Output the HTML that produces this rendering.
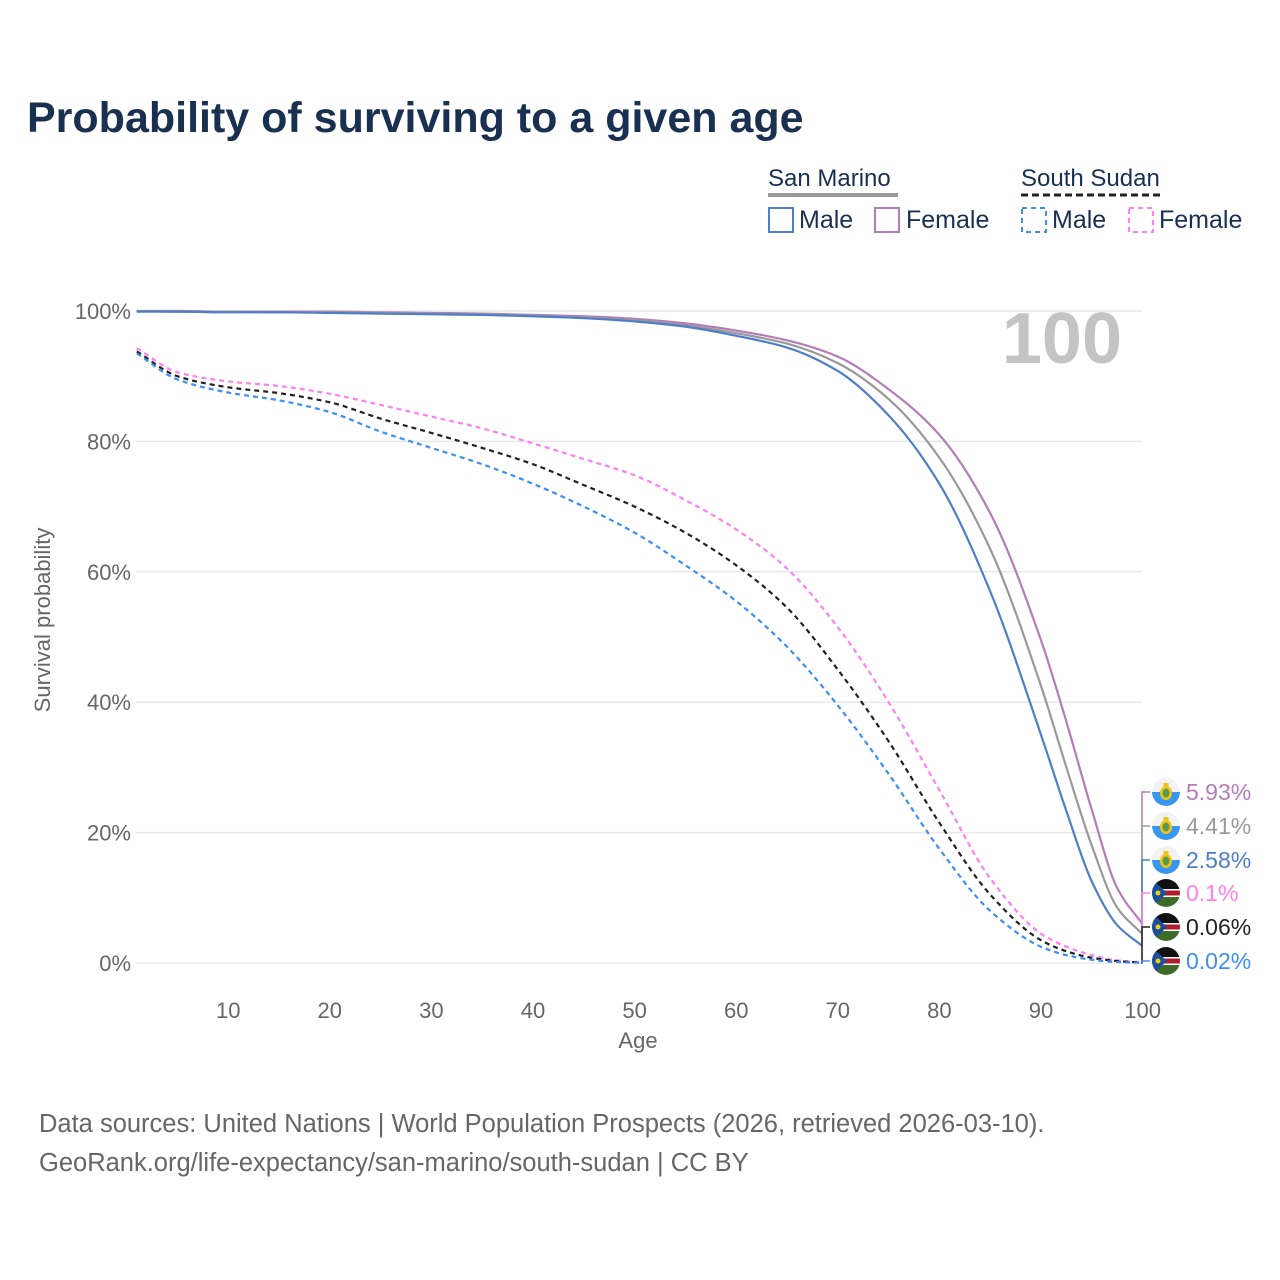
<!DOCTYPE html>
<html><head><meta charset="utf-8">
<style>
body{margin:0;background:#fff;}
svg{display:block;font-family:"Liberation Sans",sans-serif;}
</style></head>
<body>
<svg id="chart" width="1280" height="1280" viewBox="0 0 1280 1280">
<defs>
<clipPath id="cflag"><circle cx="0" cy="0" r="14"/></clipPath>
</defs>
<text x="27" y="132" font-size="43" font-weight="bold" fill="#1a3050">Probability of surviving to a given age</text>
<g>
<text x="768" y="186" font-size="24" fill="#1a3050">San Marino</text>
<line x1="768" y1="195" x2="898" y2="195" stroke="#999" stroke-width="4"/>
<text x="1021" y="186" font-size="24" fill="#1a3050">South Sudan</text>
<line x1="1021" y1="195" x2="1163" y2="195" stroke="#222" stroke-width="3" stroke-dasharray="7,4"/>
<rect x="769" y="208" width="24" height="24" fill="none" stroke="#4f7ec8" stroke-width="2"/>
<text x="799" y="228" font-size="25" fill="#1a3050">Male</text>
<rect x="875" y="208" width="24" height="24" fill="none" stroke="#b47cb8" stroke-width="2"/>
<text x="906" y="228" font-size="25" fill="#1a3050">Female</text>
<rect x="1022" y="208" width="24" height="24" fill="none" stroke="#3d8ef5" stroke-width="2" stroke-dasharray="5,4"/>
<text x="1052" y="228" font-size="25" fill="#1a3050">Male</text>
<rect x="1129" y="208" width="24" height="24" fill="none" stroke="#ff80f0" stroke-width="2" stroke-dasharray="5,4"/>
<text x="1159" y="228" font-size="25" fill="#1a3050">Female</text>
</g>
<text x="1122" y="363" font-size="72" font-weight="bold" fill="#c4c4c4" text-anchor="end">100</text>
<g id="grid"></g>
<g id="lines"></g>
<g id="ends"></g>
<text x="638" y="1048" font-size="22" fill="#666" text-anchor="middle">Age</text>
<text transform="translate(50,620) rotate(-90)" font-size="22" fill="#666" text-anchor="middle">Survival probability</text>
<text x="39" y="1132" font-size="25.5" fill="#666">Data sources: United Nations | World Population Prospects (2026, retrieved 2026-03-10).</text>
<text x="39" y="1171" font-size="25.5" fill="#666">GeoRank.org/life-expectancy/san-marino/south-sudan | CC BY</text>
</svg>
<script>
const ages = [1,5,10,15,20,25,30,35,40,45,50,55,60,65,70,75,80,85,90,92.5,95,97.5,100];
const smMale   = [99.9,99.9,99.8,99.8,99.7,99.6,99.5,99.4,99.2,98.9,98.4,97.6,96.2,94.4,90.8,84,73.5,57,35,23.3,12.5,5.8,2.58];
const smBoth   = [100,99.9,99.9,99.8,99.8,99.7,99.6,99.5,99.3,99,98.6,97.8,96.6,95,92,86.5,77.5,63.5,42.5,30,18,8.5,4.41];
const smFemale = [100,100,99.9,99.9,99.9,99.8,99.7,99.6,99.4,99.2,98.8,98.1,97,95.5,93,88,81,69,49.5,37,23.5,11.5,5.93];
const ssMale   = [93.5,89.5,87.5,86.3,84.5,81.5,79,76.5,73.5,70,66,61,55.5,48.5,39.5,29,17.5,8,2.5,1.2,0.5,0.15,0.02];
const ssBoth   = [93.8,90,88.3,87.4,86,83.5,81.3,79,76.5,73.3,70,66,61,54.5,45,34,21.5,10.5,3.5,1.8,0.8,0.3,0.06];
const ssFemale = [94.3,90.6,89.2,88.5,87.3,85.6,83.8,82,79.7,77.3,74.8,71,66.5,60.5,51.5,40,26.5,13,4.5,2.5,1.2,0.4,0.1];
const yTicks = [0,20,40,60,80,100];
const xTicks = [10,20,30,40,50,60,70,80,90,100];
const endLabels = ["5.93%","4.41%","2.58%","0.1%","0.06%","0.02%"];

const NS="http://www.w3.org/2000/svg";
const X = a => 126.6 + a*10.16;
const Y = p => 963 - p*6.52;
function mk(tag, attrs, parent){const e=document.createElementNS(NS,tag);for(const k in attrs)e.setAttribute(k,attrs[k]);parent.appendChild(e);return e;}
const grid=document.getElementById('grid');
yTicks.forEach(t=>{
  const l=mk('line',{x1:136,x2:1142,y1:Y(t),y2:Y(t),stroke:'#e8e8e8','stroke-width':1.5},grid);
  
  
  const tx=mk('text',{x:131,y:Y(t)+8,'font-size':22,fill:'#666','text-anchor':'end'},grid);
  tx.textContent=t+'%';
  
  
});
xTicks.forEach(t=>{
  const tx=mk('text',{x:X(t),y:1018,'font-size':22,fill:'#666','text-anchor':'middle'},grid);
  tx.textContent=t;
  
  
});
function pathD(vals){
  const xs=ages.map(X), ys=vals.map(Y), n=xs.length;
  const d=[],m=[];
  for(let i=0;i<n-1;i++)d.push((ys[i+1]-ys[i])/(xs[i+1]-xs[i]));
  m[0]=d[0];m[n-1]=d[n-2];
  for(let i=1;i<n-1;i++){
    if(d[i-1]*d[i]<=0)m[i]=0;
    else{const h0=xs[i]-xs[i-1],h1=xs[i+1]-xs[i];const w1=2*h1+h0,w2=h1+2*h0;m[i]=(w1+w2)/(w1/d[i-1]+w2/d[i]);}
  }
  let s='M'+xs[0]+','+ys[0];
  for(let i=0;i<n-1;i++){
    const h=(xs[i+1]-xs[i])/3;
    s+=' C'+(xs[i]+h)+','+(ys[i]+m[i]*h)+' '+(xs[i+1]-h)+','+(ys[i+1]-m[i+1]*h)+' '+xs[i+1]+','+ys[i+1];
  }
  return s;
}
const lines=document.getElementById('lines');
const series=[
 ['ss-female-line',ssFemale,'#ff80f0','5,4'],
 ['ss-both-line',ssBoth,'#222','5,4'],
 ['ss-male-line',ssMale,'#3d8ef5','5,4'],
 ['sm-female-line',smFemale,'#b47cb8',''],
 ['sm-both-line',smBoth,'#999',''],
 ['sm-male-line',smMale,'#4f7ec8','']
];
series.forEach(s=>{
  const e=mk('path',{d:pathD(s[1]),fill:'none',stroke:s[2],'stroke-width':2.2},lines);
  if(s[3])e.setAttribute('stroke-dasharray',s[3]);
  
  
});
const ends=document.getElementById('ends');
const endSeries=[[smFemale,'#b47cb8','sm'],[smBoth,'#999','sm'],[smMale,'#4f7ec8','sm'],[ssFemale,'#ff80f0','ss'],[ssBoth,'#222','ss'],[ssMale,'#3d8ef5','ss']];
const labelY=[792,826,860,893,927,961];
endSeries.forEach((s,i)=>{
  const vy=Y(s[0][s[0].length-1]);const ly=labelY[i];
  mk('path',{d:`M1142,${vy} L1142,${ly} L1150,${ly}`,fill:'none',stroke:s[1],'stroke-width':1.5},ends);
  const g=mk('g',{transform:`translate(1166,${ly})`},ends);
  
  
  const c=mk('g',{'clip-path':'url(#cflag)'},g);
  if(s[2]==='sm'){
    mk('rect',{x:-14,y:-14,width:28,height:14,fill:'#f2f2f2'},c);
    mk('rect',{x:-14,y:0,width:28,height:14,fill:'#3896f0'},c);
    mk('ellipse',{cx:0,cy:1,rx:6,ry:7,fill:'#f0c419'},c);
    mk('ellipse',{cx:0,cy:1,rx:3.5,ry:4.5,fill:'#5a9a4a'},c);
    mk('rect',{x:-2.5,y:-9,width:5,height:5,fill:'#f0c419'},c);
  } else {
    mk('rect',{x:-14,y:-14,width:28,height:10,fill:'#111'},c);
    mk('rect',{x:-14,y:-4,width:28,height:8,fill:'#fff'},c);
    mk('rect',{x:-14,y:-2.5,width:28,height:5,fill:'#b01c2e'},c);
    mk('rect',{x:-14,y:4,width:28,height:10,fill:'#3c6b2a'},c);
    mk('path',{d:'M-14,-14 L1,0 L-14,14 Z',fill:'#1a4fa0'},c);
    mk('circle',{cx:-8,cy:0,r:2.5,fill:'#f5d000'},c);
  }
  const t=mk('text',{x:1186,y:ly+8,'font-size':23,fill:s[1]},ends);
  t.textContent=endLabels[i];
  
  
});
</script>
</body></html>
